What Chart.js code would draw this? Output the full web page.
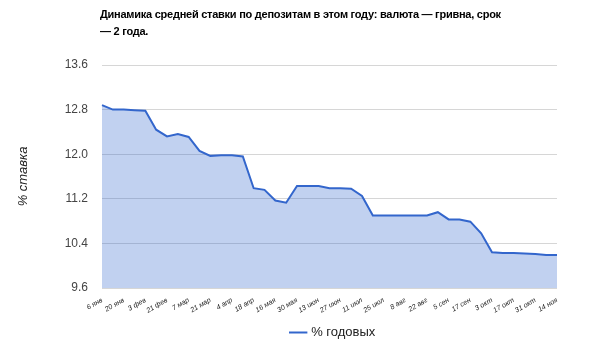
<!DOCTYPE html>
<html>
<head>
<meta charset="utf-8">
<script src="https://cdn.jsdelivr.net/npm/chart.js@4/dist/chart.umd.min.js"></script>
<style>
    body { margin: 0; background: #fff; }
    #wrap { position: relative; width: 605px; height: 342px; }
    #title {
        position: absolute; left: 100px; top: 6px;
        font: bold 11px "Liberation Sans", Arial, sans-serif;
        color: #000; line-height: 17px; letter-spacing: -0.25px;
    }
</style>
</head>
<body>
<div id="wrap">
    <div id="title">Динамика средней ставки по депозитам в этом году: валюта — гривна, срок<br>— 2 года.</div>
    <canvas id="rateChart" width="605" height="342"></canvas>
</div>
<script>
// Даты (еженедельно), подписи показываются через одну
const dates = ['6 янв', '13 янв', '20 янв', '27 янв', '3 фев', '12 фев', '21 фев', '29 фев', '7 мар', '14 мар',
    '21 мар', '28 мар', '4 апр', '11 апр', '18 апр', '4 мая', '16 мая', '23 мая', '30 мая', '6 июн',
    '13 июн', '20 июн', '27 июн', '4 июл', '11 июл', '18 июл', '25 июл', '1 авг', '8 авг', '15 авг',
    '22 авг', '29 авг', '5 сен', '12 сен', '17 сен', '26 сен', '3 окт', '10 окт', '17 окт', '24 окт',
    '31 окт', '7 ноя', '14 ноя'];

// % годовых
const rates = [12.88, 12.80, 12.80, 12.79, 12.78, 12.44, 12.32, 12.36, 12.31, 12.06,
    11.97, 11.98, 11.98, 11.96, 11.39, 11.36, 11.17, 11.13, 11.43, 11.43,
    11.43, 11.39, 11.39, 11.38, 11.25, 10.90, 10.90, 10.90, 10.90, 10.90,
    10.90, 10.96, 10.83, 10.83, 10.79, 10.58, 10.24, 10.23, 10.23, 10.22,
    10.21, 10.19, 10.19];

const yTicks = [9.6, 10.4, 11.2, 12.0, 12.8, 13.6];
const seriesName = '% годовых';
const yTitle = '% ставка';

// сдвиг легенды вправо, как в оригинале
const legendShift = {
    id: 'legendShift',
    afterLayout(chart) {
        chart.legend.left += 55;
        chart.legend.right += 55;
    }
};

const ctx = document.getElementById('rateChart').getContext('2d');

new Chart(ctx, {
    type: 'line',
    data: {
        labels: dates,
        datasets: [{
            label: seriesName,
            data: rates,
            borderColor: '#3366cc',
            backgroundColor: 'rgba(51, 102, 204, 0.3)',
            borderWidth: 2,
            fill: 'start',
            tension: 0,
            pointRadius: 0
        }]
    },
    options: {
        responsive: false,
        animation: false,
        layout: { padding: { top: 65, right: 48, left: 0, bottom: -7 } },
        plugins: {
            legend: {
                position: 'bottom',
                labels: {
                    usePointStyle: true,
                    pointStyle: 'line',
                    boxWidth: 18,
                    padding: 4,
                    color: '#222',
                    font: { family: 'Liberation Sans, Arial', size: 13 }
                }
            },
            tooltip: { enabled: false }
        },
        scales: {
            x: {
                grid: { display: false },
                border: { display: false },
                ticks: {
                    autoSkip: false,
                    minRotation: 30,
                    maxRotation: 30,
                    padding: 0,
                    color: '#222',
                    font: { family: 'Liberation Sans, Arial', size: 7, style: 'italic' },
                    callback: (v, i) => (i % 2 === 0 ? dates[i] : '')
                },
                afterFit: (s) => { s.height = 34; }
            },
            y: {
                min: 9.6,
                max: 13.6,
                afterBuildTicks: (s) => { s.ticks = yTicks.map(v => ({ value: v })); },
                grid: { color: '#d6d6d6', drawTicks: false },
                border: { display: false },
                ticks: {
                    padding: 14,
                    color: '#444',
                    font: { family: 'Liberation Sans, Arial', size: 12 },
                    callback: (v) => v.toFixed(1)
                },
                title: {
                    display: true,
                    text: yTitle,
                    color: '#222',
                    font: { family: 'Liberation Sans, Arial', size: 13, style: 'italic' },
                    padding: { top: 16, bottom: 0 }
                },
                afterFit: (s) => { s.width = 102; }
            }
        }
    },
    plugins: [legendShift]
});
</script>
</body>
</html>
